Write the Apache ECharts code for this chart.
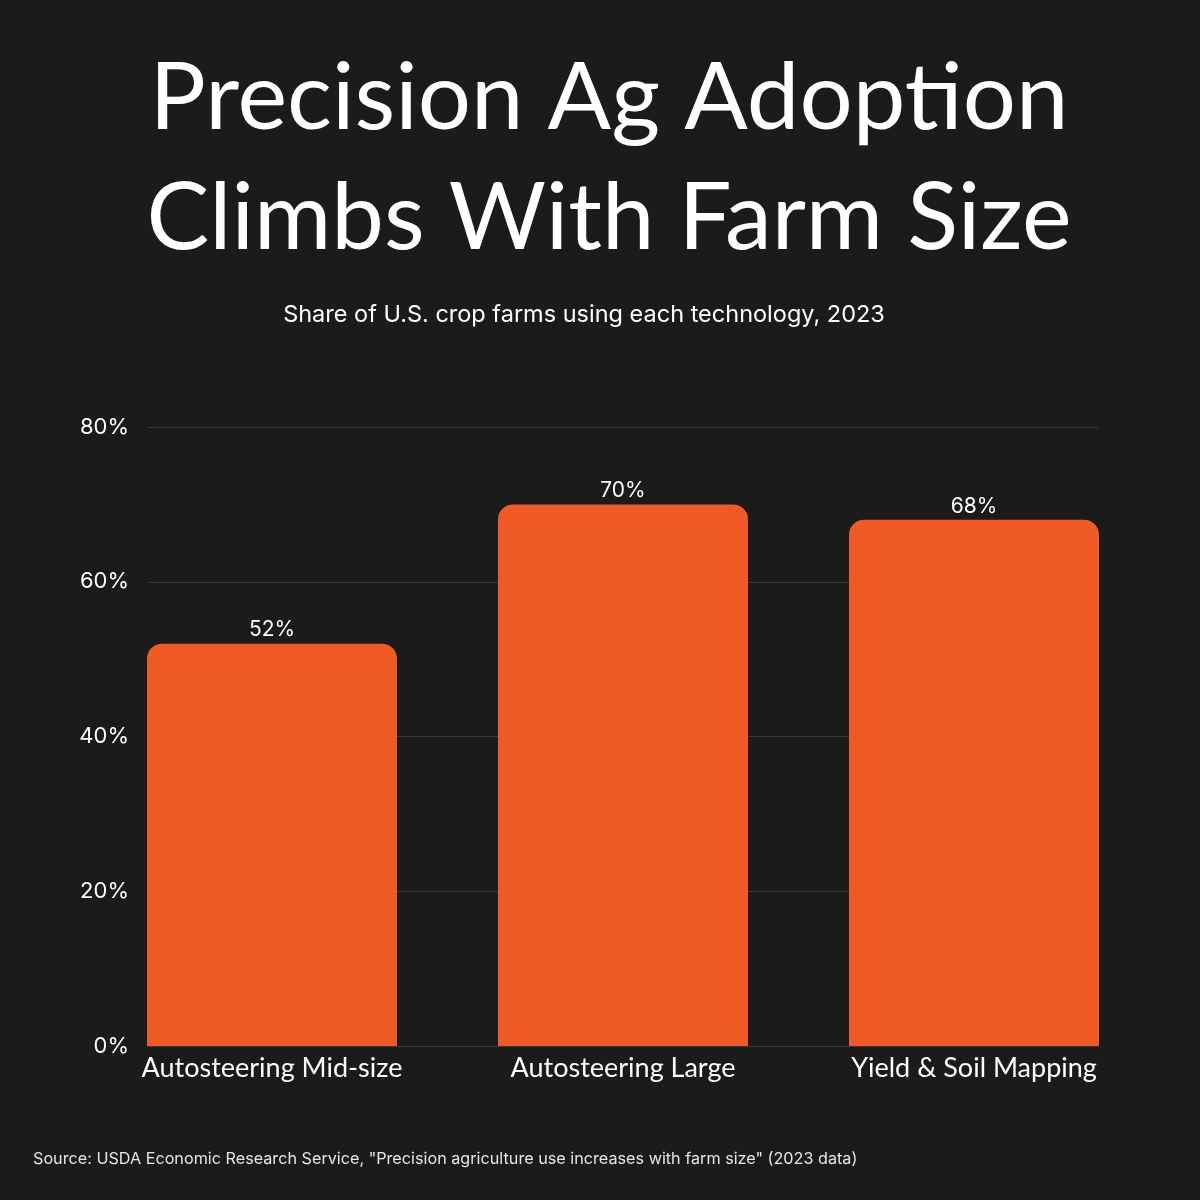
<!DOCTYPE html>
<html>
<head>
<meta charset="utf-8">
<script src="https://cdn.jsdelivr.net/npm/echarts@6/dist/echarts.min.js"></script>
<style>
  html, body { margin: 0; padding: 0; background: #1b1b1b; }
  #chart { width: 1200px; height: 1200px; }
</style>
</head>
<body>
<div id="chart"></div>
<script>
const categories = ['Autosteering Mid-size', 'Autosteering Large', 'Yield & Soil Mapping'];
const adoption = [52, 70, 68];
const yMin = 0;
const yMax = 80;
const yStep = 20;

const chart = echarts.init(document.getElementById('chart'));

const plotTop = 427;
const plotBottom = 154;

chart.setOption({
  backgroundColor: '#1b1b1b',
  animation: false,
  title: [
    {
      text: 'Precision Ag Adoption\nClimbs With Farm Size',
      left: 604,
      top: 34,
      textAlign: 'center',
      textStyle: {
        color: '#ffffff',
        fontFamily: 'Lato',
        fontWeight: 400,
        fontSize: 94,
        lineHeight: 120,
      },
    },
    {
      text: 'Share of U.S. crop farms using each technology, 2023',
      left: 579,
      top: 298,
      textAlign: 'center',
      textStyle: { color: '#ffffff', fontFamily: 'Inter', fontWeight: 400, fontSize: 23.5 },
    },
    {
      text: 'Source: USDA Economic Research Service, "Precision agriculture use increases with farm size" (2023 data)',
      left: 28,
      top: 1146,
      textStyle: { color: '#e6e6e6', fontFamily: 'Inter', fontWeight: 400, fontSize: 16.2 },
    },
  ],
  grid: [
    // gridlines + y labels
    { left: 148, right: 102, top: plotTop, bottom: plotBottom },
    // bars + category labels
    { left: 96.5, right: 50.5, top: plotTop, bottom: plotBottom },
  ],
  xAxis: [
    { gridIndex: 0, type: 'category', data: categories, show: false },
    {
      gridIndex: 1,
      type: 'category',
      data: categories,
      axisLine: { show: false },
      axisTick: { show: false },
      splitLine: { show: false },
      axisLabel: {
        color: '#ffffff',
        fontFamily: 'Lato',
        fontSize: 27,
        margin: 9,
        interval: 0,
      },
    },
  ],
  yAxis: [
    {
      gridIndex: 0,
      type: 'value',
      min: yMin,
      max: yMax,
      interval: yStep,
      axisLine: { show: false },
      axisTick: { show: false },
      splitLine: { show: true, lineStyle: { color: '#3a3a3a', width: 1 } },
      axisLabel: {
        color: '#ffffff',
        fontFamily: 'Inter',
        fontSize: 22,
        margin: 19,
        padding: [4, 0, 0, 0],
        formatter: (v) => v + '%',
      },
    },
    {
      gridIndex: 1,
      type: 'value',
      min: yMin,
      max: yMax,
      interval: yStep,
      show: false,
      splitLine: { show: false },
    },
  ],
  series: [
    {
      type: 'bar',
      xAxisIndex: 1,
      yAxisIndex: 1,
      data: adoption,
      barWidth: 250,
      itemStyle: { color: '#f05a24', borderRadius: [15, 15, 0, 0] },
      label: {
        show: true,
        position: 'top',
        distance: 3,
        color: '#ffffff',
        fontFamily: 'Inter',
        fontSize: 21,
        formatter: (p) => p.value + '%',
      },
    },
  ],
});
</script>
</body>
</html>
